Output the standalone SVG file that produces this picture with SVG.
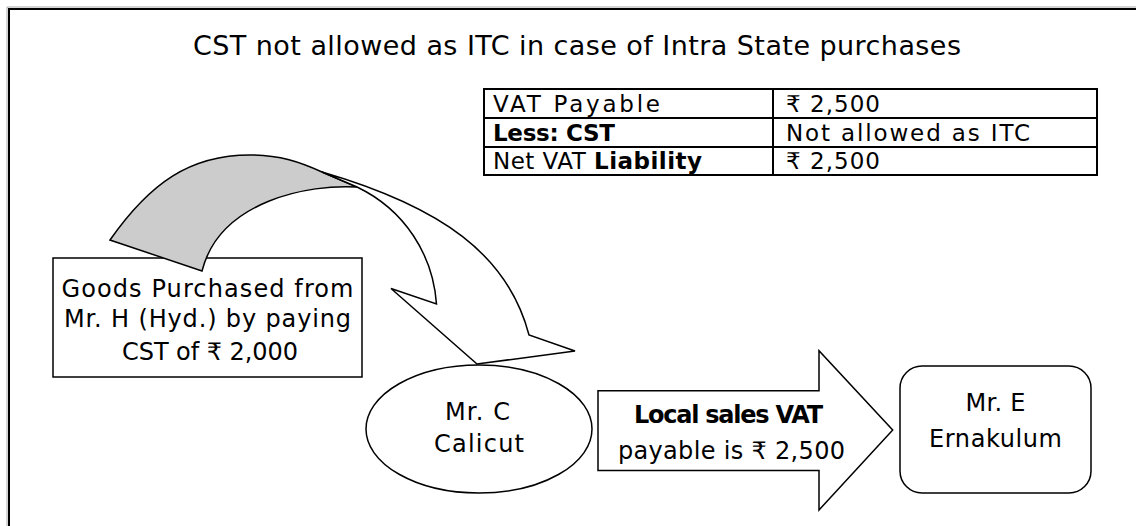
<svg xmlns="http://www.w3.org/2000/svg" width="1136" height="526" viewBox="0 0 1136 526">
<style>
text{font-family:"DejaVu Sans","Noto Sans",sans-serif;fill:#000}
.t{font-size:24px}
.tb{font-size:23px}
.b{font-weight:bold}
.c{text-anchor:middle}
.sh{fill:#fff;stroke:#000;stroke-width:1.5;stroke-linejoin:miter}
</style>
<rect width="1136" height="526" fill="#fff"/>
<g id="frame">
<path d="M7,526 V7 H1136" fill="none" stroke="#aaa" stroke-width="1"/>
<path d="M9,526 V9 H1136" fill="none" stroke="#000" stroke-width="2"/>
</g>
<g id="title">
<text x="577" y="55" class="c" style="font-size:27px" textLength="768">CST not allowed as ITC in case of Intra State purchases</text>
</g>
<g id="table">
<rect x="484" y="89" width="613" height="86" fill="#fff" stroke="#000" stroke-width="2"/>
<path d="M484,118 H1097 M484,147 H1097 M773,89 V175" stroke="#000" stroke-width="2" fill="none"/>
<text x="493" y="112" class="tb" textLength="167">VAT Payable</text>
<text x="786" y="112" class="tb" textLength="94">₹ 2,500</text>
<text x="493" y="141" class="tb b" textLength="122">Less: CST</text>
<text x="786" y="141" class="tb" textLength="244">Not allowed as ITC</text>
<text x="493" y="169" class="tb" textLength="209">Net VAT <tspan class="b">Liability</tspan></text>
<text x="786" y="169" class="tb" textLength="94">₹ 2,500</text>
</g>
<g id="goods">
<rect x="53" y="258" width="309" height="119" class="sh"/>
<text x="207.5" y="297" class="t c" textLength="292">Goods Purchased from</text>
<text x="207.5" y="327" class="t c" textLength="287">Mr. H (Hyd.) by paying</text>
<text x="210" y="360" class="t c" textLength="176">CST of ₹ 2,000</text>
</g>
<g id="connectors">
<path id="curved-back" d="M110,240 C150,183 190,155 250,155 C280,155 300,162 322,172 L357,187 C310,184 220,200 202,271 Z" fill="#cccccc" stroke="#000" stroke-width="1.5" stroke-linejoin="miter"/>
<path id="curved-front" d="M322,172 C442,207 508,255 529,335 L575,351 L477,364 L391,288.5 L436.5,304 C433,255 405,210 357,187 Z" class="sh"/>
<g id="block-arrow">
<path d="M598,390.7 H819 V350.7 L892.7,430 L819,510 V470.5 H598 Z" class="sh"/>
<text x="728.5" y="423" class="t c b" textLength="189">Local sales VAT</text>
<text x="731.5" y="459" class="t c" textLength="227">payable is ₹ 2,500</text>
</g>
</g>
<g id="mr-c">
<ellipse cx="479" cy="429" rx="113" ry="64" class="sh"/>
<text x="477.5" y="420" class="t c" textLength="65">Mr. C</text>
<text x="479" y="452" class="t c" textLength="90">Calicut</text>
</g>
<g id="mr-e">
<rect x="900" y="366" width="191" height="127" rx="22" class="sh"/>
<text x="995.5" y="411" class="t c" textLength="60">Mr. E</text>
<text x="995.5" y="447" class="t c" textLength="133">Ernakulum</text>
</g>
</svg>
